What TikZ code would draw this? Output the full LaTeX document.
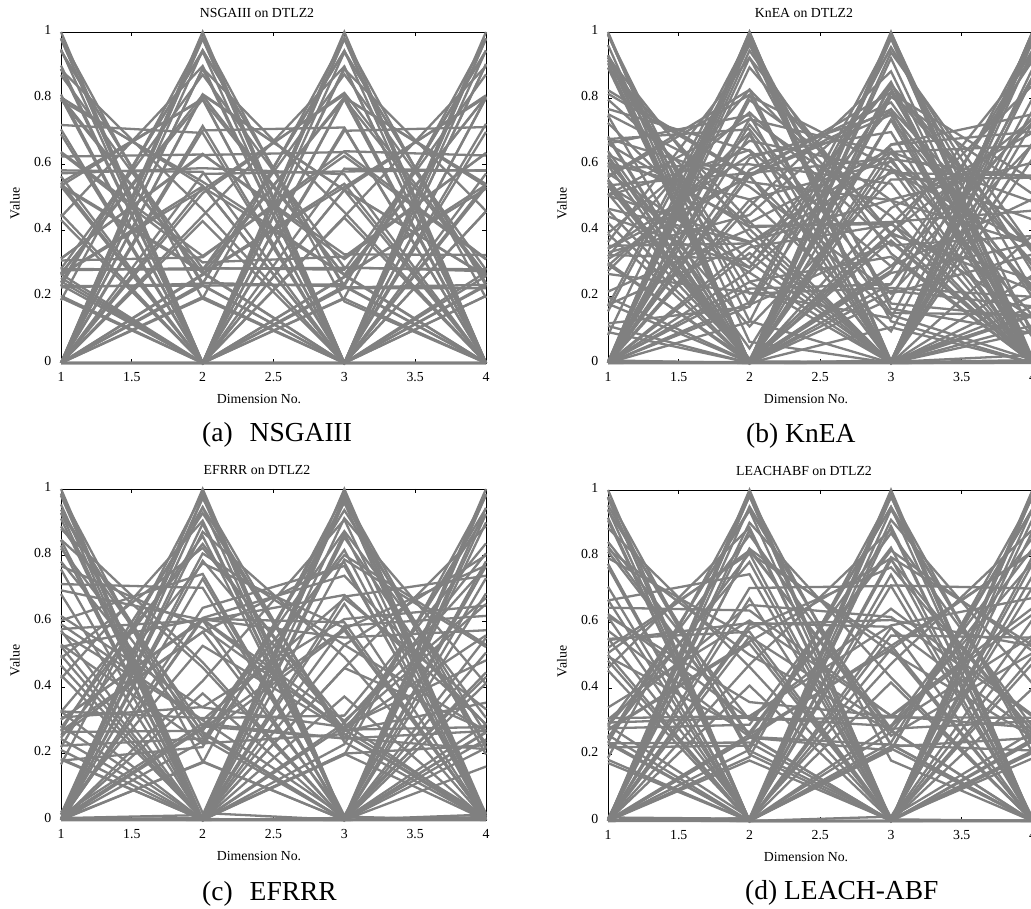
\documentclass[tikz,border=0pt]{standalone}
\usepackage{fontspec}
\setmainfont{Liberation Serif}
\definecolor{plotgray}{RGB}{128,128,128}
\newcommand\axfont{\fontsize{13.8}{16}\selectfont}
\newcommand\capfont{\fontsize{27.5}{32}\selectfont}
\tikzset{
  dataline/.style={draw=plotgray, line width=2.3pt},
  axisframe/.style={draw=black, line width=0.8pt},
  ticktext/.style={font=\axfont, inner sep=0pt},
  titletext/.style={font=\axfont, inner sep=0pt},
  captext/.style={font=\capfont, inner sep=0pt, anchor=base west},
}
% reference-point (Das-Dennis, H=6) solutions on the DTLZ2 front, with noise
\newcommand\refdata[3]{%
  \pgfmathsetseed{#3}%
  \foreach \dda in {0,...,6}{%
    \pgfmathtruncatemacro\bmax{6-\dda}%
    \foreach \ddb in {0,...,\bmax}{%
      \pgfmathtruncatemacro\cmax{6-\dda-\ddb}%
      \foreach \ddc in {0,...,\cmax}{%
        \pgfmathtruncatemacro\ddd{6-\dda-\ddb-\ddc}%
        \pgfmathsetmacro\wa{\dda*(1+#1*rand)+#2*rnd^8}%
        \pgfmathsetmacro\wb{\ddb*(1+#1*rand)+#2*rnd^8}%
        \pgfmathsetmacro\wc{\ddc*(1+#1*rand)+#2*rnd^8}%
        \pgfmathsetmacro\wd{\ddd*(1+#1*rand)+#2*rnd^8}%
        \pgfmathsetmacro\wn{sqrt(\wa*\wa+\wb*\wb+\wc*\wc+\wd*\wd)}%
        \draw[dataline] (0,{\wa/\wn}) -- (1,{\wb/\wn}) -- (2,{\wc/\wn}) -- (3,{\wd/\wn});
      }%
    }%
  }%
}
\newcommand\randdata[1]{%
  \foreach \k in {1,...,#1}{%
    \pgfmathsetmacro\wa{(rnd>0.3)*rnd+0.001}%
    \pgfmathsetmacro\wb{(rnd>0.3)*rnd+0.001}%
    \pgfmathsetmacro\wc{(rnd>0.3)*rnd+0.001}%
    \pgfmathsetmacro\wd{(rnd>0.3)*rnd+0.001}%
    \pgfmathsetmacro\wn{sqrt(\wa*\wa+\wb*\wb+\wc*\wc+\wd*\wd)}%
    \draw[dataline] (0,{\wa/\wn}) -- (1,{\wb/\wn}) -- (2,{\wc/\wn}) -- (3,{\wd/\wn});
  }%
}
% #1 left, #2 bottom, #3 x unit, #4 name prefix, #5 title, #6 data code
\newcommand\drawpanel[6]{%
  \begin{scope}[shift={(#1pt,#2pt)}, x=#3pt, y=331pt]
    \draw[axisframe] (0,0) rectangle (3,1);
    \foreach \t in {0,0.5,...,3}{
      \draw[axisframe] (\t,0) -- ++(0,4pt);
      \draw[axisframe] (\t,1) -- ++(0,-4pt);
    }
    \foreach \t in {0,0.2,0.4,0.6,0.8,1}{
      \draw[axisframe] (0,\t) -- ++(4pt,0);
      \draw[axisframe] (3,\t) -- ++(-4pt,0);
    }
    #6
    \foreach \t/\l [count=\i] in {0/1,0.5/1.5,1/2,1.5/2.5,2/3,2.5/3.5,3/4}{
      \node[ticktext, anchor=north, yshift=-9pt] (#4xt\i) at (\t,0) {\l};
    }
    \foreach \t/\l [count=\i] in {0/0,0.2/0.2,0.4/0.4,0.6/0.6,0.8/0.8,1/1}{
      \node[ticktext, anchor=east, xshift=-9.5pt, yshift=2.5pt] (#4yt\i) at (0,\t) {\l};
    }
    \node[titletext] (#4title) at (196pt,350pt) {#5};
    \node[titletext, rotate=90] (#4ylab) at (-46pt,159.5pt) {Value};
    \node[titletext] (#4xlab) at (198pt,-36pt) {Dimension No.};
  \end{scope}%
}
\begin{document}
\begin{tikzpicture}
  \useasboundingbox (0,0) rectangle (1031pt,909pt);
  \fill[white] (0,0) rectangle (1031pt,909pt);
  \drawpanel{61}{546}{141.67}{pa}{NSGAIII on DTLZ2}{\refdata{0.03}{0}{11}}
  \drawpanel{608}{546}{141.5}{pb}{KnEA on DTLZ2}{\refdata{0.6}{0.05}{5}\randdata{30}}
  \drawpanel{61}{89}{141.67}{pc}{EFRRR on DTLZ2}{\refdata{0.15}{0.12}{7}}
  \drawpanel{608}{88}{141.5}{pd}{LEACHABF on DTLZ2}{\refdata{0.08}{0.06}{3}}
  \node[captext] (capa) at (202pt,467pt) {(a)\hspace{17pt}NSGAIII};
  \node[captext] (capb) at (746pt,466pt) {(b) KnEA};
  \node[captext] (capc) at (202pt,8pt) {(c)\hspace{17pt}EFRRR};
  \node[captext] (capd) at (745pt,9pt) {(d) LEACH-ABF};
\end{tikzpicture}
\end{document}
